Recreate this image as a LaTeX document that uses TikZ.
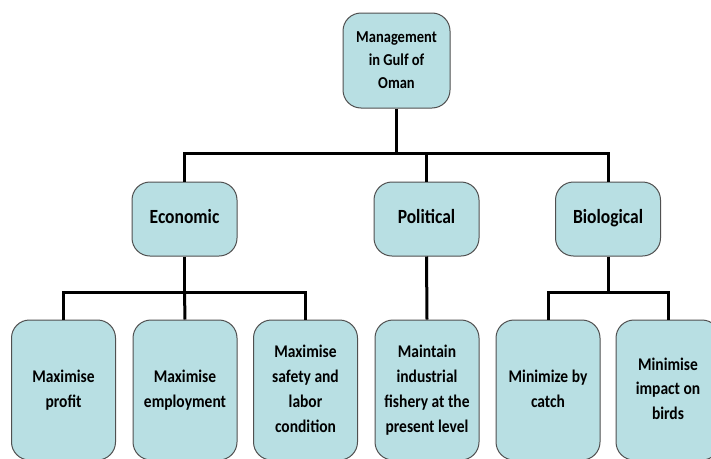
\documentclass[tikz,border=0pt]{standalone}
\usepackage{fontspec}
\usepackage{graphicx}
\setmainfont{Carlito}
\definecolor{boxfill}{RGB}{184,223,227}
\definecolor{boxline}{RGB}{80,80,80}
\newcommand{\vstretch}[1]{\scalebox{1}[1.15]{\begin{tabular}{@{}c@{}}#1\end{tabular}}}
\begin{document}
\begin{tikzpicture}[x=1pt,y=-1pt,
  box/.style={draw=boxline,line width=1pt,fill=boxfill,rounded corners=18pt,
    align=center,inner sep=0pt,font=\bfseries},
  topbox/.style={box,minimum width=107pt,minimum height=95pt,
    font=\fontsize{14.5}{20}\selectfont\bfseries},
  midbox/.style={box,minimum width=105pt,minimum height=74pt,
    font=\fontsize{17.5}{20}\selectfont\bfseries},
  leafbox/.style={box,minimum width=104pt,minimum height=140pt,
    font=\fontsize{15.5}{21.7}\selectfont\bfseries},
  conn/.style={line width=3pt,black}]
\useasboundingbox (0,0) rectangle (711,458);
\fill[white] (0,0) rectangle (711,458);
% nodes
\node[topbox] (top) at (396.5,60.5) {\raisebox{5pt}{\vstretch{Management\\in Gulf of\\Oman}}};
\node[midbox] (eco) at (184.5,219) {\vstretch{Economic}};
\node[midbox] (pol) at (426.5,219) {\vstretch{Political}};
\node[midbox] (bio) at (608,219) {\vstretch{Biological}};
\node[leafbox] (e1) at (63.5,390) {\vstretch{Maximise\\profit}};
\node[leafbox] (e2) at (185,390) {\vstretch{Maximise\\employment}};
\node[leafbox] (e3) at (305.5,390) {\vstretch{Maximise\\safety and\\labor\\condition}};
\node[leafbox] (p1) at (427,390) {\vstretch{Maintain\\industrial\\fishery at the\\present level}};
\node[leafbox] (b1) at (548,390) {\vstretch{Minimize by\\catch}};
\node[leafbox] (b2) at (668,390) {\vstretch{Minimise\\impact on\\birds}};
% bus coordinates
\coordinate (busA) at (396.5,153);
\coordinate (busE) at (184.5,292);
\coordinate (busB) at (608,292);
% connectors
\draw[conn] (top.south) -- (busA);
\draw[conn] (eco.north) |- (busA) -| (bio.north);
\draw[conn] (pol.north) -- (pol.north |- busA);
\draw[conn] (eco.south) -- (busE);
\draw[conn] (e1.north) |- (busE) -| (e3.north);
\draw[conn] (e2.north) -- (busE);
\draw[conn] (pol.south) -- (p1.north);
\draw[conn] (bio.south) -- (busB);
\draw[conn] (b1.north) |- (busB) -| (b2.north);
\end{tikzpicture}
\end{document}
